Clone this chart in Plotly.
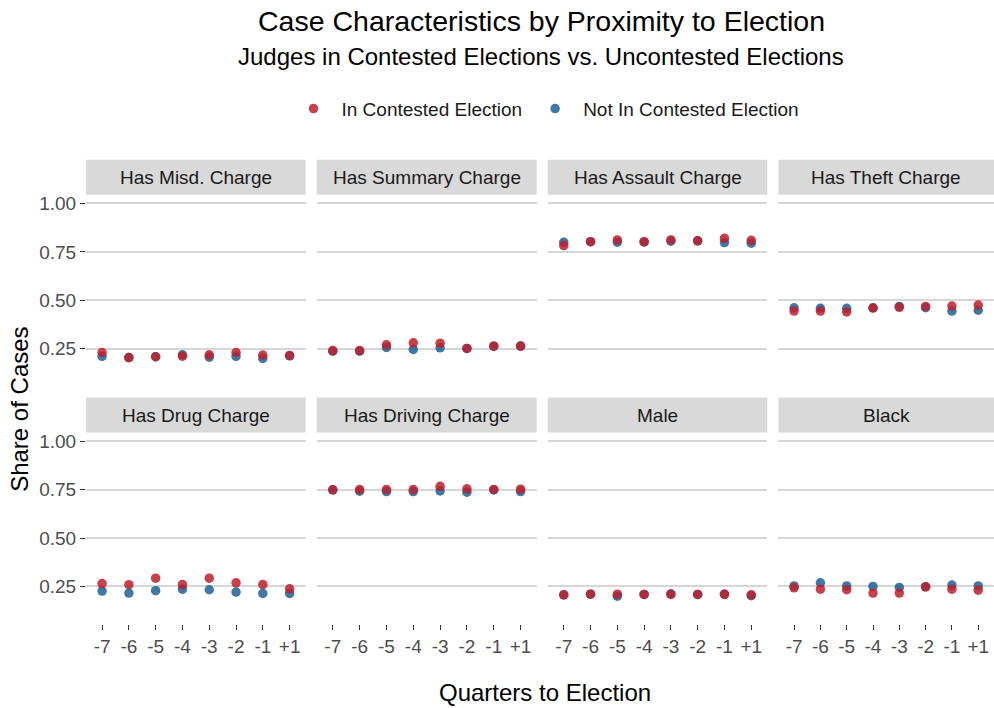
import plotly.graph_objects as go

quarters = ["-7", "-6", "-5", "-4", "-3", "-2", "-1", "+1"]
panels = ["Has Misd. Charge", "Has Summary Charge", "Has Assault Charge", "Has Theft Charge",
          "Has Drug Charge", "Has Driving Charge", "Male", "Black"]

contested = {
    "Has Misd. Charge":   [0.231, 0.205, 0.209, 0.212, 0.219, 0.231, 0.218, 0.216],
    "Has Summary Charge": [0.241, 0.241, 0.271, 0.281, 0.279, 0.252, 0.265, 0.264],
    "Has Assault Charge": [0.783, 0.803, 0.812, 0.803, 0.812, 0.807, 0.820, 0.810],
    "Has Theft Charge":   [0.445, 0.445, 0.440, 0.460, 0.464, 0.469, 0.471, 0.476],
    "Has Drug Charge":    [0.265, 0.259, 0.293, 0.260, 0.293, 0.269, 0.260, 0.238],
    "Has Driving Charge": [0.749, 0.750, 0.750, 0.750, 0.767, 0.754, 0.751, 0.752],
    "Male":               [0.207, 0.210, 0.210, 0.209, 0.209, 0.209, 0.209, 0.207],
    "Black":              [0.243, 0.236, 0.233, 0.216, 0.216, 0.248, 0.236, 0.231],
}
not_contested = {
    "Has Misd. Charge":   [0.211, 0.205, 0.209, 0.219, 0.207, 0.211, 0.200, 0.214],
    "Has Summary Charge": [0.238, 0.238, 0.257, 0.247, 0.255, 0.252, 0.262, 0.264],
    "Has Assault Charge": [0.800, 0.803, 0.800, 0.801, 0.805, 0.807, 0.798, 0.795],
    "Has Theft Charge":   [0.462, 0.459, 0.459, 0.462, 0.469, 0.462, 0.445, 0.449],
    "Has Drug Charge":    [0.226, 0.216, 0.228, 0.236, 0.233, 0.221, 0.214, 0.214],
    "Has Driving Charge": [0.749, 0.742, 0.740, 0.740, 0.743, 0.737, 0.748, 0.740],
    "Male":               [0.207, 0.210, 0.200, 0.209, 0.212, 0.209, 0.211, 0.202],
    "Black":              [0.253, 0.269, 0.253, 0.250, 0.245, 0.248, 0.257, 0.253],
}
y_ticks = [0.25, 0.50, 0.75, 1.00]
y_ticklabels = ["0.25", "0.50", "0.75", "1.00"]

RED = "rgba(190,30,45,0.85)"
BLUE = "rgba(30,95,148,0.85)"
W, H = 994, 708
FONT = "Liberation Sans, Arial, sans-serif"

col_x = [(86, 305.7), (316.7, 536.7), (547.7, 767.3), (778.3, 994)]
row_y = [(193.3, 385.7), (431.7, 624.0)]
strip_h = 35

fig = go.Figure()
layout = {}
for i, name in enumerate(panels):
    r, c = divmod(i, 4)
    k = i + 1
    xa = "x" if k == 1 else f"x{k}"
    ya = "y" if k == 1 else f"y{k}"
    x0, x1 = col_x[c]
    y0, y1 = row_y[r]
    fig.add_trace(go.Scatter(x=quarters, y=not_contested[name], mode="markers",
                             marker=dict(color=BLUE, size=9.5), name="Not In Contested Election",
                             legendgroup="nc", showlegend=(i == 0), legendrank=2,
                             xaxis=xa, yaxis=ya, cliponaxis=False))
    fig.add_trace(go.Scatter(x=quarters, y=contested[name], mode="markers",
                             marker=dict(color=RED, size=9.5), name="In Contested Election",
                             legendgroup="c", showlegend=(i == 0), legendrank=1,
                             xaxis=xa, yaxis=ya, cliponaxis=False))
    xkey = "xaxis" if k == 1 else f"xaxis{k}"
    ykey = "yaxis" if k == 1 else f"yaxis{k}"
    layout[xkey] = dict(domain=[x0 / W, x1 / W], anchor=ya, type="category",
                        categoryorder="array", categoryarray=quarters,
                        range=[-0.6, 7.6], showgrid=False, zeroline=False, showline=False,
                        showticklabels=(r == 1), ticks="outside" if r == 1 else "",
                        ticklen=5, tickwidth=1.3, tickcolor="#333333",
                        tickfont=dict(size=19, color="#4d4d4d", family=FONT))
    layout[ykey] = dict(domain=[1 - y1 / H, 1 - y0 / H], anchor=xa,
                        range=[0.055, 1.045], tickvals=y_ticks, ticktext=y_ticklabels,
                        showgrid=True, gridcolor="#d6d6d6", gridwidth=1.6, zeroline=False,
                        showline=False, showticklabels=(c == 0),
                        ticks="outside" if c == 0 else "", ticklen=5, tickwidth=1.3,
                        tickcolor="#333333",
                        tickfont=dict(size=19, color="#4d4d4d", family=FONT))

shapes = []
annotations = []
for i, name in enumerate(panels):
    r, c = divmod(i, 4)
    x0, x1 = col_x[c]
    y0, y1 = row_y[r]
    shapes.append(dict(type="rect", xref="paper", yref="paper",
                       x0=x0 / W, x1=x1 / W, y0=1 - y0 / H, y1=1 - (y0 - strip_h) / H,
                       fillcolor="#d9d9d9", line=dict(width=0), layer="below"))
    annotations.append(dict(text=name, xref="paper", yref="paper",
                            x=(x0 + x1) / 2 / W, y=1 - (y0 - strip_h / 2) / H,
                            showarrow=False, xanchor="center", yanchor="middle",
                            font=dict(size=19, color="#1a1a1a", family=FONT)))

annotations.append(dict(text="Case Characteristics by Proximity to Election", xref="paper", yref="paper",
                        x=541 / W, y=1 - 19 / H, showarrow=False, xanchor="center", yanchor="middle",
                        font=dict(size=28.5, color="#000000", family=FONT)))
annotations.append(dict(text="Judges in Contested Elections vs. Uncontested Elections",
                        xref="paper", yref="paper",
                        x=541 / W, y=1 - 55 / H, showarrow=False, xanchor="center", yanchor="middle",
                        font=dict(size=24, color="#000000", family=FONT)))
annotations.append(dict(text="Quarters to Election", xref="paper", yref="paper",
                        x=545 / W, y=1 - 692 / H, showarrow=False, xanchor="center", yanchor="middle",
                        font=dict(size=24, color="#000000", family=FONT)))
annotations.append(dict(text="Share of Cases", xref="paper", yref="paper",
                        x=20 / W, y=1 - 409 / H, showarrow=False, xanchor="center", yanchor="middle",
                        textangle=-90, font=dict(size=24, color="#000000", family=FONT)))

fig.update_layout(
    width=W, height=H, margin=dict(l=0, r=0, t=0, b=0),
    paper_bgcolor="white", plot_bgcolor="white",
    font=dict(family=FONT),
    shapes=shapes, annotations=annotations,
    showlegend=True,
    legend=dict(orientation="h", x=545 / W, xanchor="center", y=1 - 107 / H, yanchor="middle",
                font=dict(size=19, color="#1a1a1a", family=FONT), itemwidth=46,
                bgcolor="rgba(0,0,0,0)", traceorder="normal"),
    **layout,
)
fig.write_html("out.html", config={"displayModeBar": False},
               post_script="document.body.style.margin='0px';document.body.style.padding='0px';")
